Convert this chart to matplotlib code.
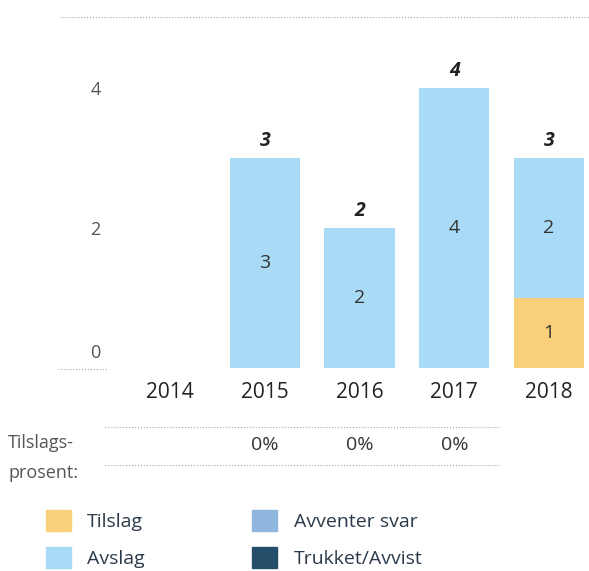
import matplotlib
matplotlib.use("Agg")
import matplotlib.pyplot as plt
from matplotlib.patches import Patch
from matplotlib.lines import Line2D
from matplotlib.transforms import offset_copy

# data
years = ["2014", "2015", "2016", "2017", "2018"]
tilslag = [0, 0, 0, 0, 1]
avslag = [0, 3, 2, 4, 2]
avventer = [0, 0, 0, 0, 0]
trukket = [0, 0, 0, 0, 0]
rate_labels = ["", "0%", "0%", "0%", ""]

c_tilslag = "#f9cf7a"
c_avslag = "#a9daf6"
c_avventer = "#8fb6dd"
c_trukket = "#234d68"
txt = "#333333"

plt.rcParams['font.family'] = ['Open Sans', 'DejaVu Sans']

W, H = 589, 571
fig = plt.figure(figsize=(W / 100, H / 100), dpi=100)

# main bar area, placed in pixel terms
ax = fig.add_axes([120 / W, 1 - 368 / H, 469 / W, 351 / H])
x = list(range(len(years)))
ax.bar(x, tilslag, width=0.74, color=c_tilslag)
ax.bar(x, avslag, width=0.74, bottom=tilslag, color=c_avslag)
ax.set_xlim(-0.528, 4.422)
ax.set_ylim(0, 5.014)

for i in x:
    total = tilslag[i] + avslag[i] + avventer[i] + trukket[i]
    if tilslag[i] > 0:
        ax.text(i, tilslag[i] / 2, str(tilslag[i]), ha='center', va='center',
                fontsize=14, color=txt)
    if avslag[i] > 0:
        ax.text(i, tilslag[i] + avslag[i] / 2, str(avslag[i]), ha='center',
                va='center', fontsize=14, color=txt)
    if total > 0:
        ax.text(i, total + 0.1, str(total), ha='center', va='bottom',
                fontsize=14, color="#222222", style='italic', fontweight='bold')

for s in ax.spines.values():
    s.set_visible(False)
ax.set_xticks(x)
ax.set_xticklabels(years, fontsize=15, color="#222222")
ax.tick_params(axis='x', length=0, pad=10)
ax.set_yticks([0, 2, 4])
ax.set_yticklabels(["0", "2", "4"], fontsize=13, color="#555555")
ax.tick_params(axis='y', length=0, pad=14)
lab0 = ax.get_yticklabels()[0]
lab0.set_va('bottom')
lab0.set_transform(offset_copy(lab0.get_transform(), fig=fig, y=6, units='dots'))

# dotted rules
fig.add_artist(Line2D([60 / W, 1], [1 - 17 / H] * 2, color="#aaaaaa", lw=0.8, ls=':'))
fig.add_artist(Line2D([58 / W, 108 / W], [1 - 369 / H] * 2, color="#aaaaaa", lw=0.8, ls=':'))
fig.add_artist(Line2D([105 / W, 500 / W], [1 - 427 / H] * 2, color="#aaaaaa", lw=0.8, ls=':'))
fig.add_artist(Line2D([105 / W, 500 / W], [1 - 465 / H] * 2, color="#aaaaaa", lw=0.8, ls=':'))

# rate row
fig.text(8 / W, 1 - 443 / H, "Tilslags-", fontsize=13, color="#555555", va='center')
fig.text(8 / W, 1 - 473 / H, "prosent:", fontsize=13, color="#555555", va='center')
for i in x:
    if rate_labels[i]:
        px = ax.transData.transform((i, 0))[0]
        fig.text(px / W, 1 - 445 / H, rate_labels[i], fontsize=14, color=txt,
                 ha='center', va='center')

handles = [Patch(color=c_tilslag, label="Tilslag"),
           Patch(color=c_avslag, label="Avslag"),
           Patch(color=c_avventer, label="Avventer svar"),
           Patch(color=c_trukket, label="Trukket/Avvist")]
fig.legend(handles=handles, ncol=2, loc='upper left',
           bbox_to_anchor=(28 / W, 1 - 492 / H), frameon=False,
           fontsize=14, handlelength=1.3, handleheight=1.3,
           handletextpad=0.85, columnspacing=5.5, labelspacing=0.85,
           labelcolor="#2b3a4a")

fig.savefig("out.png", dpi=100)
